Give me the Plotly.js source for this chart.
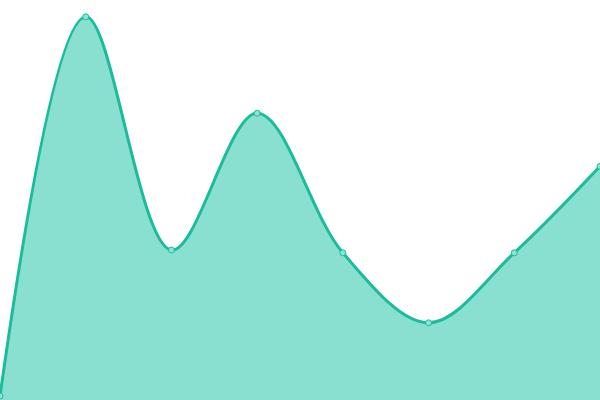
<!DOCTYPE html>
<html>
<head>
<meta charset="utf-8">
<script src="https://cdn.plot.ly/plotly-3.0.1.min.js"></script>
<style>
  html, body { margin: 0; padding: 0; background: #fff; }
  #chart { width: 600px; height: 400px; }
</style>
</head>
<body>
<div id="chart"></div>
<script>
// categories and values
var labels = ['1', '2', '3', '4', '5', '6', '7', '8'];
var values = [1, 95.8, 37.5, 71.7, 36.8, 19.3, 36.8, 58.4];

var area = {
  x: labels.map(function (l, i) { return i; }), // index so points sit at the edges
  y: values,
  type: 'scatter',
  mode: 'lines+markers',
  fill: 'tozeroy',
  fillcolor: '#89e0d0',
  line: { color: '#1abc9c', width: 3, shape: 'spline', smoothing: 1 },
  marker: { size: 6, color: '#8ee3d2', line: { color: '#1abc9c', width: 1 } },
  cliponaxis: false,
  hoverinfo: 'none'
};

var layout = {
  width: 600,
  height: 400,
  margin: { l: 0, r: 0, t: 0, b: 0 },
  paper_bgcolor: '#fff',
  plot_bgcolor: '#fff',
  showlegend: false,
  xaxis: { visible: false, range: [0, 7], type: 'linear', fixedrange: true },
  yaxis: { visible: false, range: [0, 100], fixedrange: true }
};

Plotly.newPlot('chart', [area], layout, { staticPlot: true });
</script>
</body>
</html>
